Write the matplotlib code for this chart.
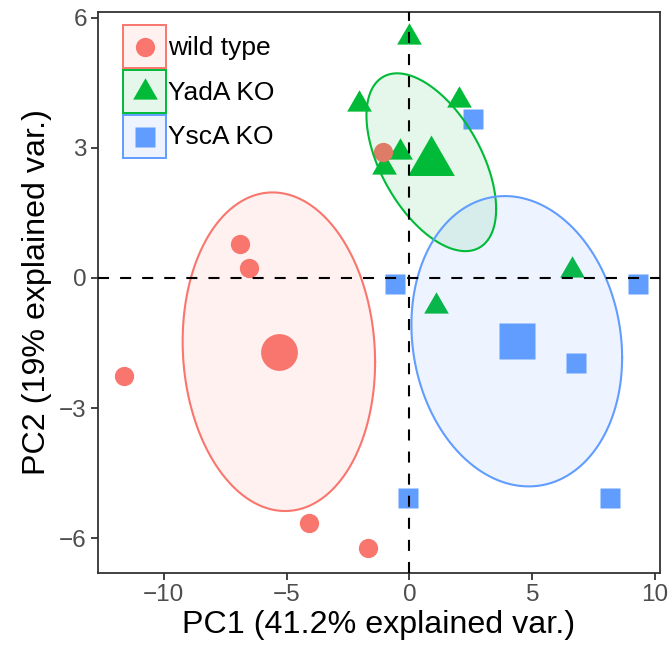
import numpy as np
import matplotlib
matplotlib.use("Agg")
import matplotlib.pyplot as plt
from matplotlib.path import Path
from matplotlib.patches import Rectangle
from matplotlib.colors import to_rgba

plt.rcParams['font.family'] = ['Liberation Sans', 'DejaVu Sans']

# ---- data (PC scores) ----
groups = ["wild type", "YadA KO", "YscA KO"]
colors = ["#F8766D", "#00BA38", "#619CFF"]

wt_x = [-6.90, -6.53, -1.08, -11.64, -4.08, -1.67]
wt_y = [0.78, 0.24, 2.90, -2.25, -5.65, -6.22]
yada_x = [-0.03, -2.06, 2.03, -0.38, -1.03, 6.60, 1.09, 0.89]
yada_y = [5.55, 4.02, 4.10, 2.90, 2.56, 0.19, -0.65, 2.67]
ysca_x = [2.58, -0.58, 9.32, 6.76, -0.05, 8.18]
ysca_y = [3.66, -0.15, -0.15, -1.97, -5.08, -5.06]

xticks = [-10, -5, 0, 5, 10]
yticks = [-6, -3, 0, 3, 6]
xlabel = "PC1 (41.2% explained var.)"
ylabel = "PC2 (19% explained var.)"

# ---- markers ----
tri = Path([(0, 1.5551), (1.3468, -0.7776), (-1.3468, -0.7776), (0, 1.5551)],
           [Path.MOVETO, Path.LINETO, Path.LINETO, Path.CLOSEPOLY])
markers = ["o", tri, "s"]
small_ms = [13.9, 20.5, 13.7]
big_ms = [26.5, 38.8, 26.4]

W, H = 670, 655
fig = plt.figure(figsize=(W / 100, H / 100), dpi=100)
L, R, T, B = 98, 660, 12, 573
ax = fig.add_axes([L / W, 1 - B / H, (R - L) / W, (B - T) / H])

data = [(wt_x, wt_y), (yada_x, yada_y), (ysca_x, ysca_y)]
draw_order = [1, 2, 0]

for i in draw_order:
    x, y = data[i]
    ax.plot(x, y, linestyle="none", marker=markers[i], ms=small_ms[i],
            color=colors[i], mec="none", zorder=2)

t = np.linspace(0, 2 * np.pi, 300)
circ = np.vstack([np.cos(t), np.sin(t)])
for i in range(3):
    x, y = np.asarray(data[i][0]), np.asarray(data[i][1])
    mu = np.array([x.mean(), y.mean()])
    S = np.cov(x, y)
    Lc = np.linalg.cholesky(S)
    e = (Lc @ circ).T + mu
    ax.fill(e[:, 0], e[:, 1], color=colors[i], alpha=0.1, lw=0, zorder=3)
    ax.plot(e[:, 0], e[:, 1], color=colors[i], lw=1.5, zorder=3.2)
    ax.plot([mu[0]], [mu[1]], linestyle="none", marker=markers[i],
            ms=big_ms[i], color=colors[i], mec="none", zorder=3.5)

ax.axhline(0, color="black", lw=1.5, linestyle=(0, (5.3, 5.3)), zorder=4)
ax.axvline(0, color="black", lw=1.5, linestyle=(0, (5.3, 5.3)), zorder=4)

ax.set_xlim(-12.68, 10.2)
ax.set_ylim(-6.80, 6.13)
ax.set_xticks(xticks)
ax.set_yticks(yticks)
ax.set_xticklabels(["\u2212" + str(-v) if v < 0 else str(v) for v in xticks])
ax.set_yticklabels(["\u2212" + str(-v) if v < 0 else str(v) for v in yticks])
ax.tick_params(direction="out", length=5, width=1.3, color="#333333",
               labelcolor="#4D4D4D", labelsize=17.5, pad=3)
for sp in ax.spines.values():
    sp.set_color("#333333")
    sp.set_linewidth(1.3)
ax.set_xlabel(xlabel, fontsize=23.2, labelpad=3)
ax.set_ylabel(ylabel, fontsize=23.2, labelpad=5)

# ---- legend (keys drawn in pixel layout) ----
def fx(px):
    return px / W

def fy(py):
    return 1 - py / H

box = 43
tops = [25, 70, 115]
for i in range(3):
    top = tops[i]
    fc = to_rgba(colors[i], 0.1)
    fig.patches.append(Rectangle((fx(123), fy(top + box)), box / W, box / H,
                                 transform=fig.transFigure, facecolor=fc,
                                 edgecolor=colors[i], lw=1.4, zorder=5))
    fig.lines.append(plt.Line2D([fx(144.5)], [fy(top + 21.5)], marker=markers[i],
                                ms=small_ms[i], color=colors[i], mec="none",
                                linestyle="none", transform=fig.transFigure, zorder=6))
    fig.text(fx(168), fy(top + 29.5), groups[i], fontsize=19, color="black",
             va="baseline", ha="left", zorder=6)

fig.savefig("out.png", dpi=100)
